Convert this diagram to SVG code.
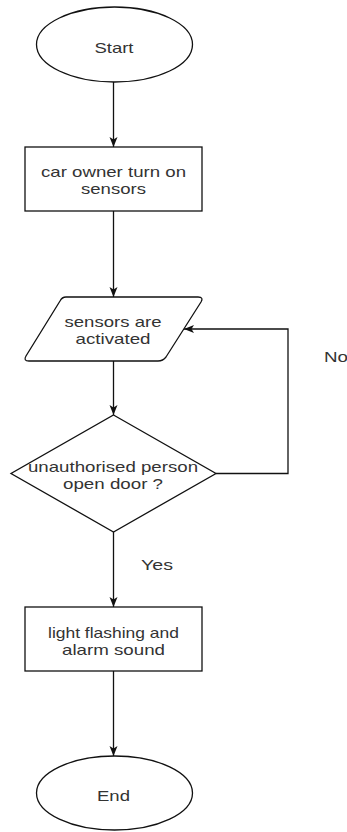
<svg xmlns="http://www.w3.org/2000/svg" width="347" height="832" viewBox="0 0 347 832">
  <style>
    .shape { fill: #ffffff; stroke: #111111; stroke-width: 1.3; }
    .edge { fill: none; stroke: #111111; stroke-width: 1.3; }
    .label { font-family: "Liberation Sans", Arial, sans-serif; font-size: 15px; fill: #333333; text-anchor: middle; }
  </style>
  <defs>
    <marker id="arrow" markerUnits="userSpaceOnUse" markerWidth="10" markerHeight="10" viewBox="0 0 10 10" refX="10" refY="5" orient="auto">
      <path d="M0,1 L10,5 L0,9 L2.5,5 z" fill="#111111"/>
    </marker>
  </defs>
  <rect width="347" height="832" fill="#ffffff"/>

  <g id="connectors">
    <path class="edge" d="M113.5,82 L113.5,147" marker-end="url(#arrow)"/>
    <path class="edge" d="M113.5,211 L113.5,297" marker-end="url(#arrow)"/>
    <path class="edge" d="M113.5,361 L113.5,415" marker-end="url(#arrow)"/>
    <path class="edge" d="M216,473.5 L288,473.5 L288,329 L184,329" marker-end="url(#arrow)"/>
    <path class="edge" d="M113.5,532 L113.5,607" marker-end="url(#arrow)"/>
    <path class="edge" d="M113.5,671 L113.5,756" marker-end="url(#arrow)"/>
    <text class="label" x="157" y="570" textLength="32" lengthAdjust="spacingAndGlyphs">Yes</text>
    <text class="label" x="336" y="362" textLength="24" lengthAdjust="spacingAndGlyphs">No</text>
  </g>

  <g id="start">
    <ellipse class="shape" cx="114.5" cy="44.5" rx="78" ry="37.5"/>
    <text class="label" x="114" y="52.5" textLength="39" lengthAdjust="spacingAndGlyphs">Start</text>
  </g>

  <g id="turn-on">
    <rect class="shape" x="25" y="147" width="177" height="64"/>
    <text class="label" x="113.5" y="176.5" textLength="145" lengthAdjust="spacingAndGlyphs">car owner turn on</text>
    <text class="label" x="113.5" y="194" textLength="65" lengthAdjust="spacingAndGlyphs">sensors</text>
  </g>

  <g id="activated">
    <path class="shape" d="M66,297 L198,297 Q204,297 201,302 L166,357 Q163,361 158,361 L29,361 Q23,361 26,356 L60,301 Q62,297 66,297 Z"/>
    <text class="label" x="113" y="326.5" textLength="97" lengthAdjust="spacingAndGlyphs">sensors are</text>
    <text class="label" x="113" y="344" textLength="75" lengthAdjust="spacingAndGlyphs">activated</text>
  </g>

  <g id="decision">
    <path class="shape" d="M113.5,415 L216,473.5 L113.5,532 L11,473.5 Z"/>
    <text class="label" x="113" y="471.5" textLength="170" lengthAdjust="spacingAndGlyphs">unauthorised person</text>
    <text class="label" x="113" y="489" textLength="100" lengthAdjust="spacingAndGlyphs">open door ?</text>
  </g>

  <g id="alarm">
    <rect class="shape" x="25" y="607" width="177" height="64"/>
    <text class="label" x="113.5" y="637.5" textLength="131" lengthAdjust="spacingAndGlyphs">light flashing and</text>
    <text class="label" x="113.5" y="655" textLength="103" lengthAdjust="spacingAndGlyphs">alarm sound</text>
  </g>

  <g id="end">
    <ellipse class="shape" cx="114.5" cy="793" rx="78" ry="37"/>
    <text class="label" x="113.5" y="800.5" textLength="33" lengthAdjust="spacingAndGlyphs">End</text>
  </g>
</svg>
